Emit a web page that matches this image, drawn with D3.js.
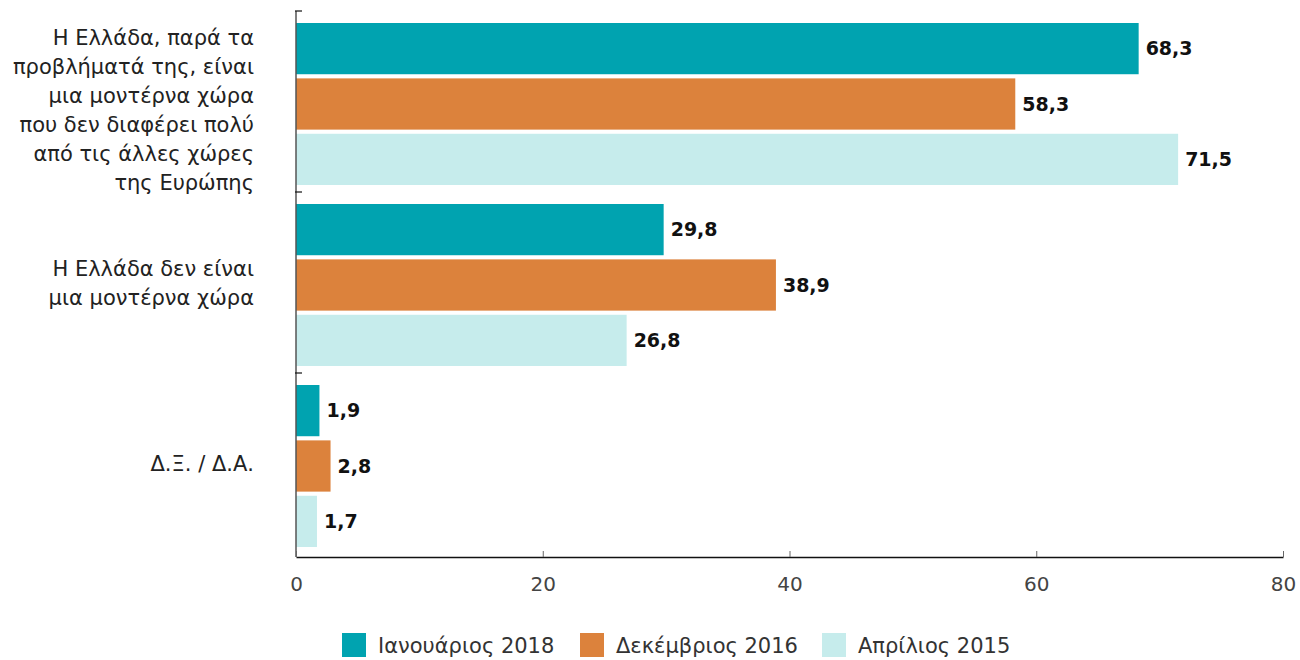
<!DOCTYPE html>
<html>
<head>
<meta charset="utf-8">
<script src="https://cdn.jsdelivr.net/npm/d3@7"></script>
<style>
  body { margin: 0; background: #fff; }
  svg text { font-family: "DejaVu Sans", sans-serif; }
</style>
</head>
<body>
<div id="chart"></div>
<script>
// categories (top to bottom) and series
var categories = [
  ['Η Ελλάδα, παρά τα', 'προβλήματά της, είναι', 'μια μοντέρνα χώρα', 'που δεν διαφέρει πολύ', 'από τις άλλες χώρες', 'της Ευρώπης'],
  ['Η Ελλάδα δεν είναι', 'μια μοντέρνα χώρα'],
  ['Δ.Ξ. / Δ.Α.']
]
var seriesNames = ['Ιανουάριος 2018', 'Δεκέμβριος 2016', 'Απρίλιος 2015']
var jan2018 = [68.3, 29.8, 1.9]
var dec2016 = [58.3, 38.9, 2.8]
var apr2015 = [71.5, 26.8, 1.7]
var xTicks = [0, 20, 40, 60, 80]
var colors = ['#00a3b0', '#dc823c', '#c6ecec']

var series = [jan2018, dec2016, apr2015]
var W = 1300, H = 660

var svg = d3.select('#chart').append('svg')
    .attr('width', W)
    .attr('height', H)

var x = d3.scaleLinear().domain([0, 80]).range([296, 1283])
var y0 = d3.scaleBand().domain(d3.range(categories.length)).range([11, 554]).padding(0)
var y1 = d3.scaleBand().domain(d3.range(series.length))
    .range([12, y0.bandwidth() - 7]).paddingInner(0.075)

var fmt = v => d3.format('.1f')(v).replace('.', ',')

// bars
var groups = svg.selectAll('g.cat')
    .data(categories)
    .join('g')
    .attr('class', 'cat')
    .attr('transform', (d, i) => 'translate(0,' + y0(i) + ')')

groups.each(function(c, ci) {
    var g = d3.select(this)
    series.forEach((s, si) => {
        g.append('rect')
            .attr('x', x(0))
            .attr('y', y1(si))
            .attr('width', x(s[ci]) - x(0))
            .attr('height', y1.bandwidth())
            .attr('fill', colors[si])
        g.append('text')
            .attr('x', x(s[ci]) + 7)
            .attr('y', y1(si) + y1.bandwidth() / 2)
            .attr('dy', '0.36em')
            .attr('font-size', 19)
            .attr('font-weight', 'bold')
            .attr('fill', '#111')
            .text(fmt(s[ci]))
    })
    // category label, multi-line (long label sits a bit low in the original)
    var lh = 29
    var shift = c.length > 3 ? 8 : 0
    var t = g.append('text')
        .attr('text-anchor', 'end')
        .attr('font-size', 21)
        .attr('fill', '#222')
    c.forEach((line, li) => {
        t.append('tspan')
            .attr('x', 254)
            .attr('y', y0.bandwidth() / 2 + shift + (li - (c.length - 1) / 2) * lh)
            .attr('dy', '0.36em')
            .text(line)
    })
})

// y axis line + boundary ticks
svg.append('line')
    .attr('x1', x(0)).attr('x2', x(0))
    .attr('y1', 11).attr('y2', 557)
    .attr('stroke', '#555').attr('stroke-width', 1.5)
var bounds = d3.range(categories.length).map(i => y0(i))
svg.selectAll('line.ytick')
    .data(bounds)
    .join('line')
    .attr('class', 'ytick')
    .attr('x1', x(0) - 1).attr('x2', x(0) + 6)
    .attr('y1', d => d).attr('y2', d => d)
    .attr('stroke', '#111').attr('stroke-width', 1.2)

// x axis
var xAxis = d3.axisBottom(x).tickValues(xTicks).tickSize(-6).tickPadding(20).tickSizeOuter(0)
var gx = svg.append('g')
    .attr('transform', 'translate(0,557)')
    .call(xAxis)
gx.select('.domain').attr('stroke', '#111').attr('stroke-width', 1.5)
gx.selectAll('.tick line').attr('stroke', '#666')
gx.selectAll('.tick text')
    .attr('font-size', 20)
    .attr('fill', '#444')
    .attr('font-family', '"DejaVu Sans", sans-serif')

// legend
var legendX = [342, 580, 822]
var lg = svg.selectAll('g.legend')
    .data(seriesNames)
    .join('g')
    .attr('class', 'legend')
    .attr('transform', (d, i) => 'translate(' + legendX[i] + ',633)')
lg.append('rect')
    .attr('width', 24).attr('height', 24)
    .attr('fill', (d, i) => colors[i])
lg.append('text')
    .attr('x', 36).attr('y', 12)
    .attr('dy', '0.36em')
    .attr('font-size', 21)
    .attr('fill', '#333')
    .text(d => d)
</script>
</body>
</html>
